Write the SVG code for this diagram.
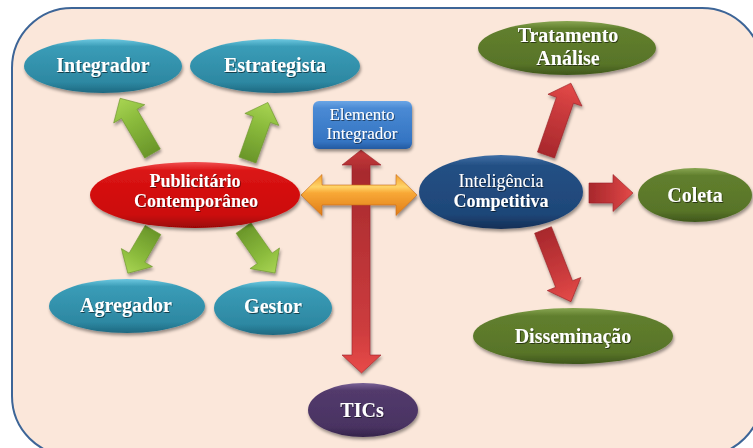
<svg xmlns="http://www.w3.org/2000/svg" width="753" height="448" viewBox="0 0 753 448">
<defs>
<filter id="sh" x="-20%" y="-20%" width="140%" height="150%"><feDropShadow dx="1" dy="2.5" stdDeviation="1.6" flood-color="#000" flood-opacity="0.4"/></filter>
<filter id="tsh" x="-10%" y="-20%" width="120%" height="150%"><feDropShadow dx="0.8" dy="1" stdDeviation="0.6" flood-color="#000" flood-opacity="0.55"/></filter>
<linearGradient id="gTeal" x1="0" y1="0" x2="0" y2="1"><stop offset="0" stop-color="#6CC8E0"/><stop offset="0.14" stop-color="#3A9CB7"/><stop offset="0.8" stop-color="#2D88A2"/><stop offset="1" stop-color="#1E6880"/></linearGradient>
<linearGradient id="gRed" x1="0" y1="0" x2="0" y2="1"><stop offset="0" stop-color="#F05050"/><stop offset="0.14" stop-color="#DA1414"/><stop offset="0.8" stop-color="#CC0A0A"/><stop offset="1" stop-color="#9A0606"/></linearGradient>
<linearGradient id="gNavy" x1="0" y1="0" x2="0" y2="1"><stop offset="0" stop-color="#3F6EA6"/><stop offset="0.14" stop-color="#245084"/><stop offset="0.8" stop-color="#1E4678"/><stop offset="1" stop-color="#142F55"/></linearGradient>
<linearGradient id="gOlive" x1="0" y1="0" x2="0" y2="1"><stop offset="0" stop-color="#88A652"/><stop offset="0.14" stop-color="#617F2E"/><stop offset="0.8" stop-color="#587428"/><stop offset="1" stop-color="#3F561B"/></linearGradient>
<linearGradient id="gPurple" x1="0" y1="0" x2="0" y2="1"><stop offset="0" stop-color="#7A6296"/><stop offset="0.14" stop-color="#523A6C"/><stop offset="0.8" stop-color="#4A3362"/><stop offset="1" stop-color="#34234A"/></linearGradient>
<linearGradient id="gBlue" x1="0" y1="0" x2="0" y2="1"><stop offset="0" stop-color="#6BA6E6"/><stop offset="0.15" stop-color="#4A8AD4"/><stop offset="0.85" stop-color="#3474C2"/><stop offset="1" stop-color="#2459A0"/></linearGradient>
<linearGradient id="gGreenA" x1="0" y1="0" x2="1" y2="0"><stop offset="0" stop-color="#6A962A"/><stop offset="0.6" stop-color="#8BBB3C"/><stop offset="1" stop-color="#A8D453"/></linearGradient>
<linearGradient id="gRedA" x1="0" y1="0" x2="1" y2="0"><stop offset="0" stop-color="#A8282C"/><stop offset="0.6" stop-color="#C93A3C"/><stop offset="1" stop-color="#E44A48"/></linearGradient>
<linearGradient id="gRedV" x1="0" y1="0" x2="0" y2="1"><stop offset="0" stop-color="#C83A3C"/><stop offset="0.1" stop-color="#A82A2E"/><stop offset="0.8" stop-color="#CC3C3E"/><stop offset="1" stop-color="#E84A48"/></linearGradient>
<linearGradient id="gOrange" x1="0" y1="0" x2="0" y2="1"><stop offset="0" stop-color="#F4A030"/><stop offset="0.3" stop-color="#FFD468"/><stop offset="0.45" stop-color="#F8A836"/><stop offset="1" stop-color="#DF7C18"/></linearGradient>
<style>
.t{font-family:"Liberation Serif","Times New Roman",serif;fill:#fff;text-anchor:middle}
.b{font-weight:bold;font-size:20px}
.gA{fill:url(#gGreenA);stroke:#6E962E;stroke-width:0.6}
.rA{fill:url(#gRedA);stroke:#9C2428;stroke-width:0.6}
</style>
</defs>
<rect x="12" y="8" width="750" height="448" rx="60" fill="#FBE7DA" stroke="#3D6597" stroke-width="2"/>
<g id="connectors" filter="url(#sh)">
<polygon class="gA" transform="translate(152.5,153.5) rotate(-120.4)" points="0,-9 46,-9 46,-18 64,0 46,18 46,9 0,9"/>
<polygon class="gA" transform="translate(247.5,160) rotate(-70.5)" points="0,-9 43,-9 43,-18 61,0 43,18 43,9 0,9"/>
<polygon class="gA" transform="translate(153,230) rotate(120.2)" points="0,-9 32,-9 32,-18 50,0 32,18 32,9 0,9"/>
<polygon class="gA" transform="translate(243.5,228) rotate(55)" points="0,-9 37,-9 37,-18 55,0 37,18 37,9 0,9"/>
<polygon class="rA" transform="translate(546,155) rotate(-70.9)" points="0,-9 58,-9 58,-18 76,0 58,18 58,9 0,9"/>
<polygon class="rA" transform="translate(589,193)" points="0,-10 24,-10 24,-18.5 44,0 24,18.5 24,10 0,10"/>
<polygon class="rA" transform="translate(543,230) rotate(68.7)" points="0,-9 58,-9 58,-18 77,0 58,18 58,9 0,9"/>
<polygon fill="url(#gRedV)" stroke="#9C2428" stroke-width="0.6" points="361,150 381,165 370,165 370,355 381,355 361.5,373 342,355 352,355 352,165 342,165"/>
<polygon fill="url(#gOrange)" stroke="#C86A14" stroke-width="0.6" points="301,195 322,174.5 322,185 396,185 396,174.5 417,195 396,215.5 396,205 322,205 322,215.5"/>
</g>
<g id="integrador" filter="url(#sh)"><ellipse cx="103" cy="66" rx="79" ry="27" fill="url(#gTeal)"/></g>
<g id="estrategista" filter="url(#sh)"><ellipse cx="275" cy="66" rx="85" ry="27" fill="url(#gTeal)"/></g>
<g id="elemento" filter="url(#sh)"><rect x="313" y="101" width="99" height="48" rx="6" fill="url(#gBlue)"/></g>
<g id="publicitario" filter="url(#sh)"><ellipse cx="195" cy="195" rx="105" ry="33" fill="url(#gRed)"/></g>
<g id="agregador" filter="url(#sh)"><ellipse cx="127" cy="306" rx="78" ry="27" fill="url(#gTeal)"/></g>
<g id="gestor" filter="url(#sh)"><ellipse cx="273" cy="308" rx="59" ry="27" fill="url(#gTeal)"/></g>
<g id="tics" filter="url(#sh)"><ellipse cx="363" cy="410" rx="55" ry="27" fill="url(#gPurple)"/></g>
<g id="inteligencia" filter="url(#sh)"><ellipse cx="501" cy="192" rx="82" ry="37" fill="url(#gNavy)"/></g>
<g id="tratamento" filter="url(#sh)"><ellipse cx="567" cy="48" rx="89" ry="27" fill="url(#gOlive)"/></g>
<g id="coleta" filter="url(#sh)"><ellipse cx="695" cy="195" rx="57" ry="27" fill="url(#gOlive)"/></g>
<g id="disseminacao" filter="url(#sh)"><ellipse cx="573" cy="336" rx="100" ry="28" fill="url(#gOlive)"/></g>
<g id="labels" filter="url(#tsh)">
<text class="t b" x="103" y="72">Integrador</text>
<text class="t b" x="275" y="72">Estrategista</text>
<text class="t" x="362" y="120" font-size="17">Elemento</text>
<text class="t" x="362" y="139" font-size="17">Integrador</text>
<text class="t" x="195" y="187" font-size="18" font-weight="bold">Publicitário</text>
<text class="t" x="196" y="207" font-size="18" font-weight="bold">Contemporâneo</text>
<text class="t b" x="126" y="312">Agregador</text>
<text class="t b" x="273" y="313">Gestor</text>
<text class="t b" x="362" y="417">TICs</text>
<text class="t" x="501" y="187" font-size="18">Inteligência</text>
<text class="t" x="501" y="207" font-size="18" font-weight="bold">Competitiva</text>
<text class="t b" x="568" y="42">Tratamento</text>
<text class="t b" x="568" y="65">Análise</text>
<text class="t b" x="695" y="202">Coleta</text>
<text class="t b" x="573" y="343">Disseminação</text>
</g>
</svg>
